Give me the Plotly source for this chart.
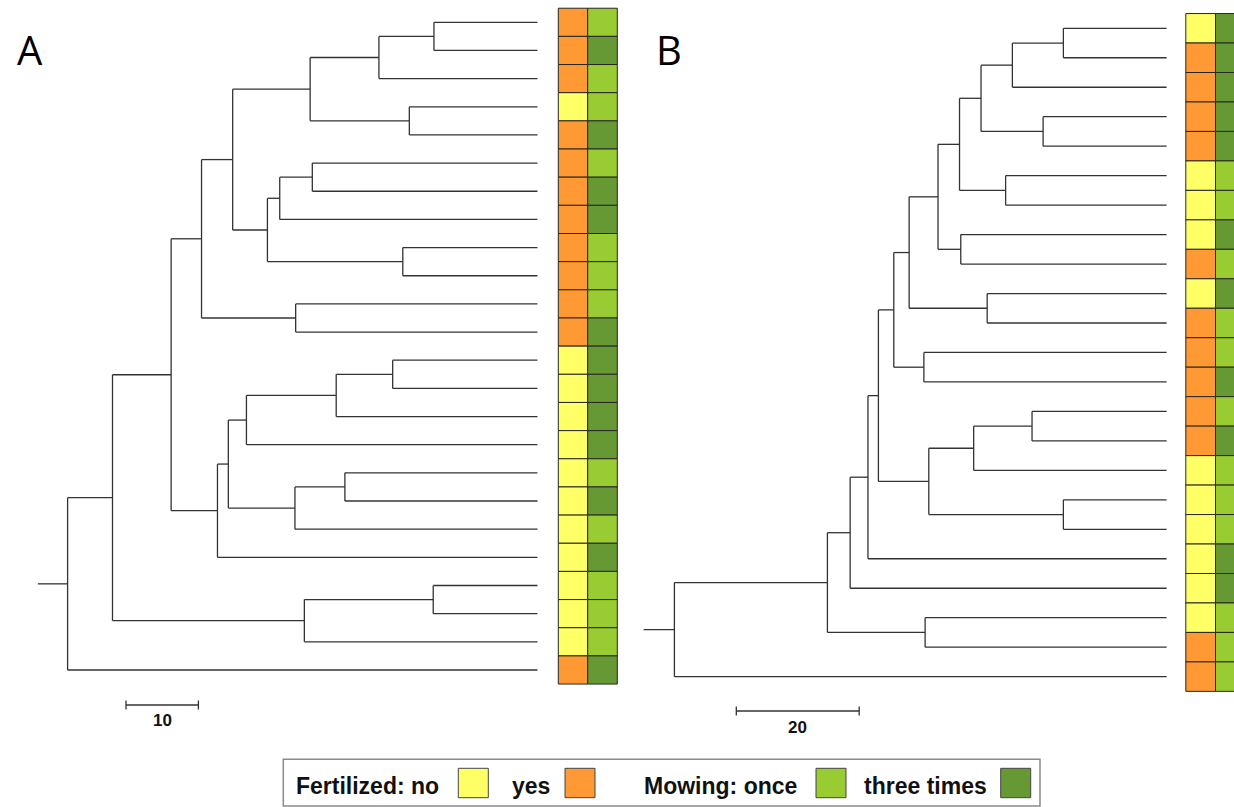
import plotly.graph_objects as go

# ---------------- data ----------------
# Panel A: 24 leaves (display order top->bottom), merges: (node, child1, child2, height)
A_nodes = ["a1", "a2", "a3", "a4", "a5", "a6", "a7", "a8", "a9", "a10", "a11", "a12",
           "a13", "a14", "a15", "a16", "a17", "a18", "a19", "a20", "a21", "a22", "a23"]
A_left = [1, "a1", 4, "a2", 6, "a5", 9, "a6", "a4", 11, "a9", 13,
          "a12", "a13", 17, "a15", "a14", "a17", "a11", 21, "a20", "a19", "a22"]
A_right = [2, 3, 5, "a3", 7, 8, 10, "a7", "a8", 12, "a10", 14,
           15, 16, 18, 19, "a16", 20, "a18", 22, 23, "a21", 24]
A_height = [14.3, 21.9, 17.7, 31.4, 31.1, 35.6, 18.6, 37.3, 42.1, 33.4, 46.4, 20.0,
            27.8, 40.2, 26.6, 33.5, 42.7, 44.2, 50.6, 14.4, 32.2, 58.7, 64.9]
A_root_stem = 4.1
A_fertilized = ["yes", "yes", "yes", "no", "yes", "yes", "yes", "yes", "yes", "yes", "yes", "yes",
                "no", "no", "no", "no", "no", "no", "no", "no", "no", "no", "no", "yes"]
A_mowing = ["once", "three", "once", "once", "three", "once", "three", "three", "once", "once", "once", "three",
            "three", "three", "three", "three", "once", "three", "once", "three", "once", "once", "once", "three"]
A_scale = 10

# Panel B: 23 leaves
B_nodes = ["b1", "b2", "b3", "b4", "b5", "b6", "b7", "b8", "b9", "b10", "b11",
           "b12", "b13", "b14", "b15", "b16", "b17", "b18", "b19", "b20", "b21", "b22"]
B_left = [1, "b1", 4, "b2", 6, "b4", 8, "b6", 10, "b8", 12,
          "b10", 14, "b13", 17, "b14", "b12", "b17", "b18", 21, "b19", "b21"]
B_right = [2, 3, 5, "b3", 7, "b5", 9, "b7", 11, "b9", 13,
           "b11", 15, 16, 18, "b15", "b16", 19, 20, 22, "b20", 23]
B_height = [16.8, 25.1, 20.1, 30.2, 26.2, 33.7, 33.5, 37.2, 29.2, 41.9, 39.5,
            44.4, 21.9, 31.4, 16.8, 38.7, 46.9, 48.6, 51.5, 39.3, 55.2, 80.1]
B_root_stem = 5.0
B_fertilized = ["no", "yes", "yes", "yes", "yes", "no", "no", "no", "yes", "no", "yes", "yes",
                "yes", "yes", "yes", "no", "no", "no", "no", "no", "no", "yes", "yes"]
B_mowing = ["three", "three", "three", "three", "three", "once", "once", "three", "once", "three", "once", "once",
            "three", "once", "three", "once", "once", "once", "three", "three", "once", "once", "once"]
B_scale = 20

FERT_COLORS = {"no": "#FFFF66", "yes": "#FF9933"}
MOW_COLORS = {"once": "#99CC33", "three": "#669933"}

# ---------------- layout constants (pixels) ----------------
W, H = 1234, 807
LINE = "#333333"
BORDER = "#262626"

panels = [
    dict(nodes=A_nodes, left=A_left, right=A_right, height=A_height, stem=A_root_stem,
         fert=A_fertilized, mow=A_mowing, scale=A_scale,
         root_px=67.6, ppu=7.24, leaf1_px=22.3, row_px=28.16, dom=[0.0, 0.515],
         tile_px=[558.3, 587.7, 617.3], bar_px=126.0, bar_y=705.0, lab_y=720.5,
         label="A", label_x=29.5, xa="x", ya="y"),
    dict(nodes=B_nodes, left=B_left, right=B_right, height=B_height, stem=B_root_stem,
         fert=B_fertilized, mow=B_mowing, scale=B_scale,
         root_px=674.4, ppu=6.145, leaf1_px=28.3, row_px=29.47, dom=[0.515, 1.0],
         tile_px=[1185.8, 1215.5, 1245.2], bar_px=736.3, bar_y=711.0, lab_y=727.0,
         label="B", label_x=669.3, xa="x2", ya="y2"),
]

fig = go.Figure()
annotations = []
shapes = []
layout_axes = {}

for k, p in enumerate(panels):
    n = len(p["fert"])
    root_h = max(p["height"])
    ppu, r0 = p["ppu"], p["root_px"]
    to_x = lambda px, r0=r0, ppu=ppu: (px - r0) / ppu
    to_y = lambda py, p=p: 1 + (py - p["leaf1_px"]) / p["row_px"]

    pos = {i: (root_h, i) for i in range(1, n + 1)}
    xs, ys = [], []
    for name, l, r, h in zip(p["nodes"], p["left"], p["right"], p["height"]):
        xn = root_h - h
        yl, yr = pos[l][1], pos[r][1]
        yn = (yl + yr) / 2
        pos[name] = (xn, yn)
        xs += [xn, xn, None]
        ys += [yl, yr, None]
        for c in (l, r):
            xs += [xn, pos[c][0], None]
            ys += [pos[c][1], pos[c][1], None]
    root = p["nodes"][-1]
    xs += [-p["stem"], pos[root][0], None]
    ys += [pos[root][1], pos[root][1], None]

    fig.add_trace(go.Scatter(x=xs, y=ys, mode="lines", line=dict(color=LINE, width=1.3),
                             xaxis=p["xa"], yaxis=p["ya"], hoverinfo="skip"))

    # tiles
    leaves = list(range(1, n + 1))
    t = p["tile_px"]
    for col, (vals, cmap) in enumerate([(p["fert"], FERT_COLORS), (p["mow"], MOW_COLORS)]):
        base = to_x(t[col])
        width = (t[col + 1] - t[col]) / ppu
        fig.add_trace(go.Bar(orientation="h", y=leaves, x=[width] * n, base=[base] * n, width=1,
                             marker=dict(color=[cmap[v] for v in vals], line=dict(color=BORDER, width=1)),
                             xaxis=p["xa"], yaxis=p["ya"], hoverinfo="skip"))

    # scale bar
    sx0 = to_x(p["bar_px"])
    sy = to_y(p["bar_y"])
    dy = 4.5 / p["row_px"]
    fig.add_trace(go.Scatter(x=[sx0, sx0 + p["scale"], None, sx0, sx0, None, sx0 + p["scale"], sx0 + p["scale"]],
                             y=[sy, sy, None, sy - dy, sy + dy, None, sy - dy, sy + dy],
                             mode="lines", line=dict(color=LINE, width=1.3),
                             xaxis=p["xa"], yaxis=p["ya"], hoverinfo="skip"))
    annotations.append(dict(x=sx0 + p["scale"] / 2, y=to_y(p["lab_y"]), xref=p["xa"], yref=p["ya"],
                            text="<b>%d</b>" % p["scale"], showarrow=False, xanchor="center", yanchor="middle",
                            font=dict(family="Liberation Sans, Arial", size=17, color="#111")))

    # panel letter
    annotations.append(dict(x=p["label_x"] / W, y=1 - 49.5 / H, xref="paper", yref="paper",
                            text=p["label"], showarrow=False, xanchor="center", yanchor="middle",
                            font=dict(family="Open Sans", size=40, color="black")))

    d0, d1 = p["dom"]
    xr = [to_x(d0 * W), to_x(d1 * W)]
    yr = [to_y(H), to_y(0)]
    suffix = "" if k == 0 else "2"
    layout_axes["xaxis" + suffix] = dict(domain=p["dom"], range=xr, visible=False, fixedrange=True,
                                         anchor="y" + suffix)
    layout_axes["yaxis" + suffix] = dict(domain=[0, 1], range=yr, visible=False, fixedrange=True,
                                         anchor="x" + suffix)

# ---------------- custom legend ----------------
def py(v):
    return 1 - v / H

shapes.append(dict(type="rect", xref="paper", yref="paper", x0=283.3 / W, x1=1040 / W,
                   y0=py(806), y1=py(759.3), line=dict(color="#8a8a8a", width=1.5), fillcolor="white"))
legend_items = [
    ("Fertilized: no", 367.2, FERT_COLORS["no"], 458.3),
    ("yes", 530.9, FERT_COLORS["yes"], 565.0),
    ("Mowing: once", 720.3, MOW_COLORS["once"], 816.0),
    ("three times", 925.7, MOW_COLORS["three"], 1000.7),
]
for text, cx, color, bx in legend_items:
    annotations.append(dict(x=cx / W, y=py(786.3), xref="paper", yref="paper", text="<b>%s</b>" % text,
                            showarrow=False, xanchor="center", yanchor="middle",
                            font=dict(family="Liberation Sans, Arial", size=23, color="#111")))
    shapes.append(dict(type="rect", xref="paper", yref="paper", x0=bx / W, x1=(bx + 30) / W,
                       y0=py(797.7), y1=py(768.3), line=dict(color="#444", width=1), fillcolor=color))

fig.update_layout(width=W, height=H, margin=dict(l=0, r=0, t=0, b=0), paper_bgcolor="white",
                  plot_bgcolor="rgba(0,0,0,0)", showlegend=False, barmode="overlay",
                  annotations=annotations, shapes=shapes, **layout_axes)

fig.write_html("out.html", config={"displayModeBar": False},
               post_script="document.body.style.margin='0';document.body.style.overflow='hidden';")
